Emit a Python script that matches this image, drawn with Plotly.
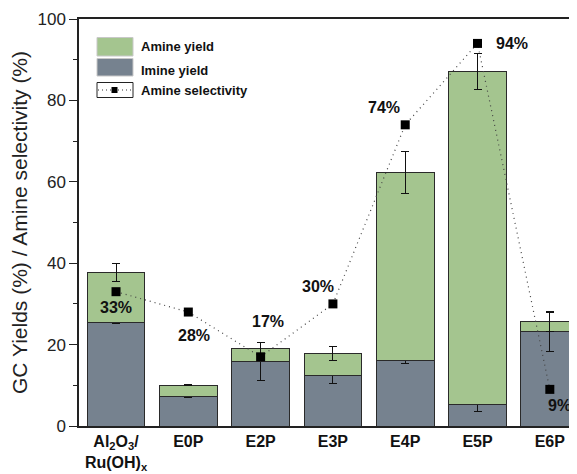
import plotly.graph_objects as go

categories = ["Al<sub>2</sub>O<sub>3</sub>/<br>Ru(OH)<sub>x</sub>", "E0P", "E2P", "E3P", "E4P", "E5P", "E6P"]
imine_yield = [25.4, 7.2, 15.8, 12.5, 16.2, 5.2, 23.2]
total_yield = [37.8, 10.0, 19.1, 17.9, 62.3, 87.1, 25.6]
imine_err = [0.15, 0.15, 4.7, 2.1, 0.8, 1.7, 4.8]
total_err = [2.2, 0.15, 1.3, 1.7, 5.2, 4.4, 2.5]
selectivity = [33, 28, 17, 30, 74, 94, 9]
sel_labels = ["33%", "28%", "17%", "30%", "74%", "94%", "9%"]
# label offsets in pixels (x, y) relative to marker
label_offsets = [(0, -16), (6, -23), (7, 35), (-15, 17), (-21, 17), (34, 0), (10, -16)]

amine_yield = [t - i for t, i in zip(total_yield, imine_yield)]
xpos = list(range(len(categories)))

GREEN = "#a4c58f"
GRAY = "#76828f"
EDGE = "#2a2a2a"

# page has an 8px body margin; work in page pixels and convert
OFF = 8
FIG_W, FIG_H = 577 - OFF, 474 - OFF
L, R, T, B = 79 - OFF, 577 - OFF, 19 - OFF, 426 - OFF

fig = go.Figure()
fig.add_trace(go.Bar(
    x=xpos, y=imine_yield, name="Imine yield", width=0.8,
    marker=dict(color=GRAY, line=dict(color=EDGE, width=1)),
    error_y=dict(type="data", array=imine_err, color="#111", thickness=1, width=4),
))
fig.add_trace(go.Bar(
    x=xpos, y=amine_yield, name="Amine yield", width=0.8,
    marker=dict(color=GREEN, line=dict(color=EDGE, width=1)),
    error_y=dict(type="data", array=total_err, color="#111", thickness=1, width=4),
))
fig.add_trace(go.Scatter(
    x=xpos, y=selectivity, name="Amine selectivity", mode="lines+markers",
    line=dict(color="#444", width=1.2, dash="1px,4px"),
    marker=dict(symbol="square", size=9, color="black"),
))

for x, y, t, (dx, dy) in zip(xpos, selectivity, sel_labels, label_offsets):
    fig.add_annotation(x=x, y=y, xref="x", yref="y", text=f"<b>{t}</b>", showarrow=False,
                       xshift=dx, yshift=dy, font=dict(family="Arial", size=16, color="#111"))

# manual legend, given in page pixels
def px(x):
    return (x - OFF - L) / (R - L)
def py(y):
    return (B - (y - OFF)) / (B - T)

shapes = []
shapes.append(dict(type="rect", xref="paper", yref="paper", x0=px(97), x1=px(133), y0=py(56), y1=py(37.5),
                   fillcolor=GREEN, line=dict(color="#c8c8c8", width=1)))
shapes.append(dict(type="rect", xref="paper", yref="paper", x0=px(97), x1=px(133), y0=py(76), y1=py(58.5),
                   fillcolor=GRAY, line=dict(color="#c8c8c8", width=1)))
shapes.append(dict(type="rect", xref="paper", yref="paper", x0=px(97), x1=px(133), y0=py(97.5), y1=py(82.5),
                   fillcolor="white", line=dict(color="#222", width=1)))
shapes.append(dict(type="line", xref="paper", yref="paper", x0=px(98), x1=px(132), y0=py(90), y1=py(90),
                   line=dict(color="#333", width=1, dash="1px,3px")))
shapes.append(dict(type="rect", xref="paper", yref="paper", x0=px(111.5), x1=px(117.5), y0=py(93), y1=py(87),
                   fillcolor="black", line=dict(color="black", width=0)))
for text, yc in [("Amine yield", 46), ("Imine yield", 70.5), ("Amine selectivity", 90)]:
    fig.add_annotation(x=px(139), y=py(yc), xref="paper", yref="paper", text=f"<b>{text}</b>",
                       showarrow=False, xanchor="left", yanchor="middle",
                       font=dict(family="Arial", size=13, color="#111"))

fig.update_layout(
    width=FIG_W, height=FIG_H,
    margin=dict(l=L, r=FIG_W - R, t=T, b=FIG_H - B, autoexpand=False),
    barmode="stack",
    plot_bgcolor="white", paper_bgcolor="white",
    showlegend=False,
    shapes=shapes,
    font=dict(family="Arial", color="#222"),
)
fig.update_xaxes(
    automargin=False,
    range=[-0.512, 6.376], tickmode="array", tickvals=xpos,
    ticktext=[f"<b>{c}</b>" for c in categories],
    tickfont=dict(family="Arial", size=16, color="#111"),
    showline=True, linecolor="#222", linewidth=1.5, mirror=True,
    ticks="", showgrid=False, zeroline=False,
)
fig.update_yaxes(
    automargin=False,
    range=[0, 100], dtick=20, tick0=0,
    ticks="outside", ticklen=8, tickwidth=1.2, tickcolor="#222",
    minor=dict(dtick=10, ticks="outside", ticklen=4, tickwidth=1.2, tickcolor="#222"),
    tickfont=dict(family="Arial", size=17, color="#222"),
    showline=True, linecolor="#222", linewidth=1.5, mirror=False,
    showgrid=False, zeroline=False,
    title=dict(text="GC Yields (%) / Amine selectivity (%)", font=dict(family="Arial", size=21, color="#222"),
               standoff=6),
)

fig.write_html("out.html")
